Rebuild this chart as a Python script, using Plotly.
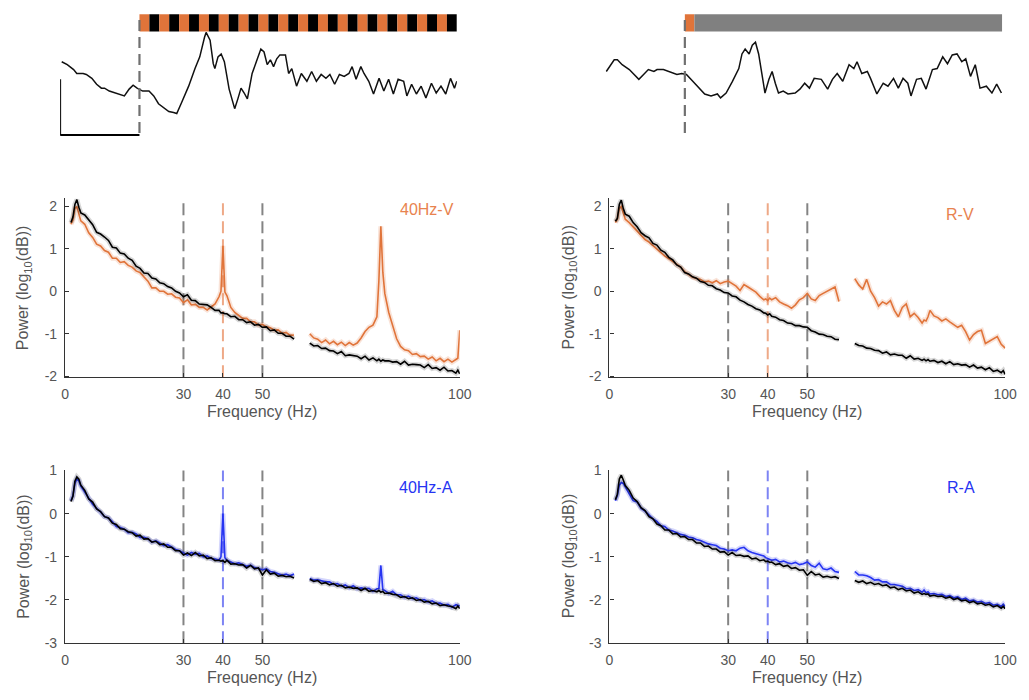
import plotly.graph_objects as go

# ---------------------------------------------------------------
# Frequency grids (Hz); the 58-62 Hz band is removed (line noise)
# ---------------------------------------------------------------
F_LOW = [1.5, 2, 2.5, 3, 3.5, 4,
         5, 6, 7, 8, 9, 10, 11, 12, 13, 14,
         15, 16, 17, 18, 19, 20, 21, 22, 23, 24,
         25, 26, 27, 28, 29, 30, 31, 32, 33, 34,
         35, 36, 37, 38, 39, 39.5, 40, 40.5,
         41, 42, 43, 44, 45, 46, 47, 48, 49, 50,
         51, 52, 53, 54, 55, 56, 57, 58]
F_HIGH = [62, 63, 64, 65, 66, 67, 68, 69, 70, 71,
          72, 73, 74, 75, 76, 77, 78, 79, 79.5, 80, 80.5,
          81, 82, 83, 84, 85, 86, 87, 88, 89, 90,
          91, 92, 93, 94, 95, 96, 97, 98, 99, 99.5, 100]

# ---- 40Hz-V (visual 40 Hz flicker) vs control, log10 power ----
STIM_40V_LOW = [1.58, 1.68, 1.95, 2.00, 1.82, 1.66,
                1.58, 1.38, 1.27, 1.11, 1.07, 0.96, 0.92, 0.78, 0.78, 0.68,
                0.70, 0.61, 0.57, 0.48, 0.44, 0.34, 0.24, 0.08, 0.08, 0.00,
                0.00, -0.07, -0.06, -0.14, -0.16, -0.27, -0.20, -0.32, -0.31, -0.38,
                -0.38, -0.44, -0.36, -0.30, -0.13, 0.00, 1.07, -0.02,
                -0.10, -0.38, -0.50, -0.56, -0.64, -0.64, -0.72, -0.72, -0.80, -0.78,
                -0.84, -0.86, -0.92, -0.91, -0.99, -0.97, -1.04, -1.03]
STIM_40V_HIGH = [-1.00, -1.10, -1.13, -1.21, -1.15, -1.24, -1.18, -1.26, -1.20, -1.28,
                 -1.21, -1.27, -1.22, -1.10, -0.95, -0.85, -0.80, -0.60, 0.25, 1.53, 0.45,
                 -0.05, -0.50, -0.80, -1.12, -1.30, -1.38, -1.40, -1.49, -1.47, -1.54,
                 -1.53, -1.60, -1.55, -1.64, -1.58, -1.66, -1.60, -1.67, -1.61, -1.58, -0.92]
CTRL_40V_LOW = [1.62, 1.75, 2.05, 2.16, 1.98, 1.85,
                1.80, 1.68, 1.57, 1.39, 1.35, 1.28, 1.20, 1.04, 1.02, 0.90,
                0.88, 0.78, 0.73, 0.59, 0.54, 0.43, 0.42, 0.31, 0.29, 0.20,
                0.18, 0.11, 0.08, 0.00, -0.04, -0.13, -0.08, -0.21, -0.22, -0.30,
                -0.31, -0.32, -0.38, -0.45, -0.45, -0.51, -0.51, -0.53,
                -0.53, -0.60, -0.59, -0.67, -0.67, -0.74, -0.72, -0.80, -0.78, -0.85,
                -0.84, -0.93, -0.91, -0.99, -0.99, -1.06, -1.06, -1.13]
CTRL_40V_HIGH = [-1.22, -1.29, -1.28, -1.35, -1.34, -1.40, -1.41, -1.47, -1.42, -1.52,
                 -1.50, -1.52, -1.53, -1.59, -1.53, -1.62, -1.57, -1.64, -1.60, -1.65, -1.62,
                 -1.64, -1.64, -1.67, -1.66, -1.72, -1.65, -1.74, -1.72, -1.73, -1.74,
                 -1.80, -1.73, -1.82, -1.80, -1.86, -1.79, -1.88, -1.87, -1.93, -1.86, -1.95]

# ---- R-V (visual random flicker) vs control ----
STIM_RV_LOW = [1.62, 1.70, 1.95, 2.00, 1.85, 1.70,
               1.62, 1.52, 1.40, 1.30, 1.22, 1.16, 1.08, 0.98, 0.92, 0.83,
               0.77, 0.70, 0.62, 0.57, 0.46, 0.39, 0.33, 0.30, 0.28, 0.22,
               0.24, 0.20, 0.25, 0.18, 0.22, 0.24, 0.18, 0.12, 0.02, 0.16,
               0.10, 0.05, -0.02, -0.12, -0.20, -0.18, -0.22, -0.16,
               -0.20, -0.15, -0.25, -0.30, -0.34, -0.40, -0.32, -0.20, -0.15, -0.05,
               -0.18, -0.22, -0.10, -0.05, 0.00, 0.05, 0.10, -0.24]
STIM_RV_HIGH = [0.30, 0.15, 0.05, 0.28, 0.00, -0.15, -0.35, -0.25, -0.30, -0.22,
                -0.45, -0.60, -0.38, -0.30, -0.60, -0.52, -0.62, -0.75, -0.68, -0.70, -0.60,
                -0.45, -0.58, -0.62, -0.70, -0.65, -0.72, -0.78, -0.85, -0.80, -0.95,
                -1.15, -1.02, -0.95, -0.92, -1.23, -1.18, -1.12, -1.07, -1.25, -1.30, -1.34]
CTRL_RV_LOW = [1.65, 1.72, 2.05, 2.15, 1.95, 1.82,
               1.77, 1.62, 1.52, 1.38, 1.31, 1.26, 1.13, 1.09, 0.97, 0.92,
               0.80, 0.74, 0.62, 0.57, 0.44, 0.41, 0.34, 0.31, 0.23, 0.21,
               0.14, 0.13, 0.06, 0.03, -0.03, -0.04, -0.11, -0.13, -0.21, -0.25,
               -0.31, -0.35, -0.41, -0.44, -0.51, -0.52, -0.56, -0.53,
               -0.59, -0.61, -0.67, -0.69, -0.75, -0.76, -0.81, -0.81, -0.84, -0.85,
               -0.93, -0.96, -1.01, -1.02, -1.06, -1.07, -1.13, -1.14]
CTRL_RV_HIGH = [-1.23, -1.28, -1.29, -1.34, -1.35, -1.39, -1.40, -1.46, -1.43, -1.50,
                -1.48, -1.51, -1.51, -1.58, -1.52, -1.60, -1.58, -1.63, -1.60, -1.64, -1.61,
                -1.65, -1.63, -1.68, -1.65, -1.71, -1.66, -1.73, -1.71, -1.74, -1.73,
                -1.79, -1.74, -1.81, -1.79, -1.85, -1.80, -1.89, -1.86, -1.92, -1.87, -1.96]

# ---- 40Hz-A (auditory 40 Hz clicks) vs control ----
STIM_40A_LOW = [0.30, 0.42, 0.70, 0.80, 0.76, 0.64,
                0.50, 0.35, 0.22, 0.12, 0.04, -0.07, -0.10, -0.19, -0.30, -0.32,
                -0.36, -0.44, -0.43, -0.47, -0.55, -0.55, -0.58, -0.66, -0.63, -0.68,
                -0.74, -0.72, -0.78, -0.83, -0.86, -0.92, -0.96, -0.90, -0.94, -0.92,
                -1.00, -0.98, -1.04, -1.05, -1.08, -1.00, 0.00, -1.02,
                -1.08, -1.12, -1.16, -1.14, -1.18, -1.22, -1.19, -1.25, -1.27, -1.30,
                -1.28, -1.34, -1.36, -1.40, -1.43, -1.40, -1.44, -1.40]
STIM_40A_HIGH = [-1.50, -1.54, -1.53, -1.55, -1.58, -1.58, -1.64, -1.62, -1.68, -1.65,
                 -1.72, -1.67, -1.74, -1.72, -1.74, -1.73, -1.80, -1.74, -1.74, -1.20, -1.76,
                 -1.78, -1.85, -1.80, -1.88, -1.88, -1.94, -1.91, -1.97, -1.95, -2.01,
                 -1.99, -2.05, -2.02, -2.08, -2.07, -2.12, -2.10, -2.17, -2.11, -2.12, -2.14]
CTRL_40A_LOW = [0.28, 0.40, 0.75, 0.85, 0.80, 0.66,
                0.54, 0.34, 0.27, 0.11, 0.05, -0.07, -0.10, -0.22, -0.25, -0.35,
                -0.36, -0.42, -0.44, -0.52, -0.50, -0.59, -0.58, -0.66, -0.64, -0.72,
                -0.70, -0.78, -0.78, -0.86, -0.86, -0.96, -0.91, -0.97, -0.90, -0.98,
                -0.96, -1.04, -1.02, -1.09, -1.08, -1.10, -1.09, -1.13,
                -1.08, -1.17, -1.16, -1.19, -1.18, -1.26, -1.20, -1.28, -1.26, -1.42,
                -1.30, -1.40, -1.38, -1.45, -1.43, -1.46, -1.45, -1.49]
CTRL_40A_HIGH = [-1.52, -1.57, -1.55, -1.62, -1.60, -1.65, -1.62, -1.68, -1.66, -1.72,
                 -1.70, -1.73, -1.72, -1.78, -1.73, -1.80, -1.78, -1.81, -1.78, -1.82, -1.80,
                 -1.85, -1.84, -1.87, -1.88, -1.94, -1.92, -1.97, -1.95, -2.01, -1.99,
                 -2.05, -2.03, -2.09, -2.07, -2.13, -2.11, -2.14, -2.15, -2.20, -2.14, -2.20]

# ---- R-A (auditory random clicks) vs control ----
STIM_RA_LOW = [0.30, 0.42, 0.66, 0.72, 0.70, 0.62,
               0.48, 0.30, 0.27, 0.12, 0.06, -0.04, -0.12, -0.18, -0.28, -0.30,
               -0.38, -0.40, -0.44, -0.48, -0.50, -0.54, -0.56, -0.60, -0.62, -0.66,
               -0.70, -0.72, -0.74, -0.80, -0.82, -0.86, -0.84, -0.86, -0.80, -0.78,
               -0.86, -0.90, -0.93, -0.96, -0.98, -1.02, -1.04, -1.05,
               -1.08, -1.06, -1.12, -1.10, -1.14, -1.16, -1.13, -1.18, -1.16, -1.12,
               -1.20, -1.24, -1.15, -1.28, -1.30, -1.26, -1.34, -1.36]
STIM_RA_HIGH = [-1.34, -1.42, -1.42, -1.44, -1.48, -1.54, -1.53, -1.58, -1.58, -1.64,
                -1.64, -1.66, -1.68, -1.74, -1.73, -1.78, -1.76, -1.82, -1.77, -1.83, -1.81,
                -1.86, -1.85, -1.88, -1.87, -1.92, -1.90, -1.95, -1.93, -1.99, -1.96,
                -2.02, -2.00, -2.05, -2.03, -2.08, -2.06, -2.12, -2.10, -2.15, -2.10, -2.15]
CTRL_RA_LOW = [0.32, 0.45, 0.80, 0.89, 0.78, 0.65,
               0.54, 0.36, 0.28, 0.14, 0.07, -0.07, -0.12, -0.24, -0.28, -0.38,
               -0.38, -0.47, -0.46, -0.54, -0.53, -0.60, -0.60, -0.68, -0.68, -0.76,
               -0.75, -0.82, -0.82, -0.89, -0.88, -0.96, -0.90, -0.97, -0.96, -0.99,
               -0.98, -1.05, -1.03, -1.09, -1.07, -1.11, -1.10, -1.13,
               -1.12, -1.18, -1.16, -1.22, -1.20, -1.27, -1.25, -1.31, -1.30, -1.43,
               -1.34, -1.42, -1.40, -1.47, -1.45, -1.48, -1.46, -1.50]
CTRL_RA_HIGH = [-1.55, -1.59, -1.56, -1.62, -1.59, -1.64, -1.62, -1.67, -1.65, -1.72,
                -1.70, -1.76, -1.73, -1.79, -1.77, -1.84, -1.81, -1.87, -1.85, -1.87, -1.86,
                -1.91, -1.89, -1.92, -1.91, -1.96, -1.93, -1.99, -1.96, -2.02, -2.00,
                -2.06, -2.03, -2.09, -2.07, -2.12, -2.10, -2.16, -2.13, -2.19, -2.15, -2.20]

# ---- Example single-trial LFP traces (ms, arbitrary uV) ----
TRACE_40_MS = [-98, -91, -83, -79, -71, -67, -60, -54, -48, -44,
               -38, -31, -25, -19, -13, -8, -3, 4, 12, 18,
               24, 31, 37, 43, 47, 53, 62, 70, 76, 82,
               84, 89, 93, 95, 99, 103, 107, 113, 120, 124,
               128, 132, 136, 142, 149, 153, 157, 161, 165, 169,
               173, 177, 184, 188, 192, 198, 204, 211, 217, 223,
               229, 235, 240, 246, 252, 258, 264, 268, 273, 279,
               283, 289, 295, 302, 308, 314, 320, 326, 333, 337,
               343, 349, 355, 361, 368, 374, 380, 386, 392, 397, 400]
TRACE_40_UV = [35, 32, 27, 23, 23, 22, 18, 12, 8, 8,
               5, 3, 1, 0, 7, 11, 8, 5, 5, 0,
               -8, -12, -16, -17, -18, -7, 10, 28, 40, 60,
               65, 57, 33, 28, 40, 43, 35, 7, -13, -3,
               8, 3, -3, 23, 40, 48, 45, 32, 37, 30,
               38, 42, 42, 23, 28, 10, 23, 15, 25, 15,
               22, 18, 22, 12, 22, 20, 23, 30, 17, 30,
               23, 15, 2, 18, 5, 17, 2, 17, 15, 0,
               12, 2, 10, -2, 13, 3, 10, 2, 18, 8, 15]
TRACE_R_MS = [-99, -93, -89, -85, -79, -70, -64, -58, -52, -46,
              -39, -35, -27, -19, -10, -4, 2, 10, 19, 25,
              33, 41, 45, 52, 60, 68, 72, 76, 81, 85,
              89, 93, 97, 101, 106, 110, 114, 118, 124, 130,
              139, 145, 151, 157, 163, 172, 180, 186, 192, 199,
              207, 213, 217, 223, 230, 234, 242, 250, 256, 263,
              269, 275, 281, 285, 292, 298, 304, 312, 318, 325,
              331, 337, 343, 349, 354, 360, 366, 372, 380, 387,
              393, 399]
TRACE_R_UV = [25, 32, 37, 37, 32, 27, 22, 17, 22, 27,
              25, 27, 27, 25, 22, 23, 22, 15, 7, 2,
              0, 2, -2, 3, 15, 28, 43, 48, 43, 52,
              55, 43, 23, 3, 17, 25, 13, 3, 5, 2,
              3, 7, 13, 8, 18, 17, 7, 17, 23, 15,
              32, 28, 35, 23, 25, 18, 2, 13, 10, 18,
              8, 18, 13, 0, 17, 18, 7, 27, 28, 40,
              33, 42, 43, 35, 38, 20, 32, 8, 10, 3,
              12, 3]

# Stimulus timing
STIM_DURATION_MS = 400
FLICKER_PERIOD_MS = 25          # 40 Hz
RANDOM_FIRST_PULSE_MS = 12

TICKS_X = [0, 30, 40, 50, 100]
BAND_MARKERS = [30, 40, 50]
TICKS_Y_TOP = [-2, -1, 0, 1, 2]
TICKS_Y_BOTTOM = [-3, -2, -1, 0, 1]

# ---------------------------------------------------------------
FONT = "Liberation Sans, Arial, Helvetica, sans-serif"
ORANGE = "#E0743A"
ORANGE_TXT = "#E8834F"
ORANGE_DASH = "rgba(232,140,95,0.75)"
BLUE = "#2634F2"
BLUE_DASH = "rgba(70,80,240,0.7)"
GRAY_DASH = "rgba(110,110,110,0.85)"
AXIS_COL = "#333333"
TEXT_COL = "#555555"
W, H = 1029, 700

fig = go.Figure()


def add_spectrum(low, high, color, halo, xa, ya):
    x = F_LOW + [None] + F_HIGH
    y = low + [None] + high
    fig.add_trace(go.Scatter(x=x, y=y, mode="lines", xaxis=xa, yaxis=ya,
                             line=dict(color=halo, width=5),
                             connectgaps=False, hoverinfo="skip", showlegend=False))
    fig.add_trace(go.Scatter(x=x, y=y, mode="lines", xaxis=xa, yaxis=ya,
                             line=dict(color=color, width=1.6),
                             connectgaps=False, showlegend=False))


panels = [
    # xaxis, yaxis, stim low/high, ctrl low/high, colour, halo, 40-Hz marker colour
    ("x", "y", STIM_40V_LOW, STIM_40V_HIGH, CTRL_40V_LOW, CTRL_40V_HIGH,
     ORANGE, "rgba(224,116,58,0.2)", ORANGE_DASH),
    ("x2", "y2", STIM_RV_LOW, STIM_RV_HIGH, CTRL_RV_LOW, CTRL_RV_HIGH,
     ORANGE, "rgba(224,116,58,0.2)", ORANGE_DASH),
    ("x3", "y3", STIM_40A_LOW, STIM_40A_HIGH, CTRL_40A_LOW, CTRL_40A_HIGH,
     BLUE, "rgba(38,52,242,0.2)", BLUE_DASH),
    ("x4", "y4", STIM_RA_LOW, STIM_RA_HIGH, CTRL_RA_LOW, CTRL_RA_HIGH,
     BLUE, "rgba(38,52,242,0.2)", BLUE_DASH),
]

shapes = []
for xa, ya, s_lo, s_hi, c_lo, c_hi, col, halo, mark_col in panels:
    add_spectrum(s_lo, s_hi, col, halo, xa, ya)
    add_spectrum(c_lo, c_hi, "black", "rgba(0,0,0,0.16)", xa, ya)
    for f in BAND_MARKERS:
        shapes.append(dict(type="line", xref=xa, yref=f"{ya} domain",
                           x0=f, x1=f, y0=0, y1=1, layer="below",
                           line=dict(color=mark_col if f == 40 else GRAY_DASH,
                                     width=2, dash="12px,6px")))

# Example traces
fig.add_trace(go.Scatter(x=TRACE_40_MS, y=TRACE_40_UV, mode="lines", xaxis="x5", yaxis="y5",
                         line=dict(color="#111111", width=1.5), showlegend=False))
fig.add_trace(go.Scatter(x=TRACE_R_MS, y=TRACE_R_UV, mode="lines", xaxis="x6", yaxis="y6",
                         line=dict(color="#111111", width=1.5), showlegend=False))

BAR_Y0, BAR_Y1 = 66, 83.5
# 40 Hz flicker bar: alternating on/off half cycles
n_cycles = STIM_DURATION_MS // FLICKER_PERIOD_MS
for k in range(n_cycles):
    t0 = k * FLICKER_PERIOD_MS
    half = FLICKER_PERIOD_MS / 2
    shapes.append(dict(type="rect", xref="x5", yref="y5", x0=t0, x1=t0 + half,
                       y0=BAR_Y0, y1=BAR_Y1, fillcolor=ORANGE, line=dict(width=0)))
    shapes.append(dict(type="rect", xref="x5", yref="y5", x0=t0 + half, x1=t0 + FLICKER_PERIOD_MS,
                       y0=BAR_Y0, y1=BAR_Y1, fillcolor="black", line=dict(width=0)))
# Random flicker bar
shapes.append(dict(type="rect", xref="x6", yref="y6", x0=0, x1=RANDOM_FIRST_PULSE_MS,
                   y0=BAR_Y0, y1=BAR_Y1, fillcolor=ORANGE, line=dict(width=0)))
shapes.append(dict(type="rect", xref="x6", yref="y6", x0=RANDOM_FIRST_PULSE_MS, x1=STIM_DURATION_MS,
                   y0=BAR_Y0, y1=BAR_Y1, fillcolor="#808080", line=dict(width=0)))
# Stimulus onset
for xa, ya in (("x5", "y5"), ("x6", "y6")):
    shapes.append(dict(type="line", xref=xa, yref=ya, x0=0, x1=0, y0=-38, y1=BAR_Y1,
                       line=dict(color="#707070", width=2.2, dash="11px,6px")))
# Scale bar
shapes.append(dict(type="line", xref="x5", yref="y5", x0=-100, x1=-100, y0=17, y1=-40,
                   line=dict(color="black", width=2)))
shapes.append(dict(type="line", xref="x5", yref="y5", x0=-100, x1=0, y0=-40, y1=-40,
                   line=dict(color="black", width=2)))

# ---------------- axes ----------------
def xdom(p0, p1):
    return [p0 / W, p1 / W]


def ydom(top_px, bottom_px):
    return [1 - bottom_px / H, 1 - top_px / H]


axis_common = dict(showline=True, linecolor=AXIS_COL, linewidth=1.3, ticks="inside",
                   ticklen=4, tickwidth=1.2, tickcolor=AXIS_COL, showgrid=False,
                   zeroline=False, mirror=False,
                   tickfont=dict(family=FONT, size=14, color=TEXT_COL))

LEFT = xdom(62, 463)
RIGHT = xdom(615, 1017)
TOP = ydom(194, 378)
BOTTOM = ydom(473.3, 650)


def xaxis(dom, anchor):
    return dict(axis_common, domain=dom, anchor=anchor, range=[0, 100],
                tickvals=TICKS_X, ticktext=[str(v) for v in TICKS_X], ticklabelstandoff=4)


def yaxis(dom, anchor, rng, ticks):
    return dict(axis_common, domain=dom, anchor=anchor, range=rng,
                tickvals=ticks, ticktext=[str(v) for v in ticks], ticklabelstandoff=4)


hidden = dict(visible=False, showgrid=False, zeroline=False, fixedrange=True)

fig.update_layout(
    width=W, height=H, margin=dict(l=0, r=0, t=0, b=0),
    paper_bgcolor="white", plot_bgcolor="white", hovermode=False,
    font=dict(family=FONT, color=TEXT_COL),
    xaxis=xaxis(LEFT, "y"), yaxis=yaxis(TOP, "x", [-2.03, 2.21], TICKS_Y_TOP),
    xaxis2=xaxis(RIGHT, "y2"), yaxis2=yaxis(TOP, "x2", [-2.03, 2.21], TICKS_Y_TOP),
    xaxis3=xaxis(LEFT, "y3"), yaxis3=yaxis(BOTTOM, "x3", [-3, 1], TICKS_Y_BOTTOM),
    xaxis4=xaxis(RIGHT, "y4"), yaxis4=yaxis(BOTTOM, "x4", [-3, 1], TICKS_Y_BOTTOM),
    xaxis5=dict(hidden, domain=xdom(57, 460), anchor="y5", range=[-100, 400]),
    yaxis5=dict(hidden, domain=ydom(0, 135), anchor="x5", range=[-45, 90]),
    xaxis6=dict(hidden, domain=xdom(611, 1014), anchor="y6", range=[-100, 400]),
    yaxis6=dict(hidden, domain=ydom(0, 135), anchor="x6", range=[-45, 90]),
    shapes=shapes,
)

annotations = []
ytitle = "Power (log<sub>10</sub>(dB))"
for xp, yp in ((20, 286), (574, 286), (20, 561), (574, 561)):
    annotations.append(dict(text=ytitle, x=xp / W, y=1 - yp / H, xref="paper", yref="paper",
                            textangle=-90, showarrow=False, xanchor="center", yanchor="middle",
                            font=dict(family=FONT, size=16, color=TEXT_COL)))
for xp, yp in ((262, 413), (816, 413), (262, 685), (816, 685)):
    annotations.append(dict(text="Frequency (Hz)", x=xp / W, y=1 - yp / H, xref="paper",
                            yref="paper", showarrow=False, xanchor="center", yanchor="middle",
                            font=dict(family=FONT, size=16, color=TEXT_COL)))
for txt, xp, yp, col in (("40Hz-V", 430, 206, ORANGE_TXT), ("R-V", 971, 211, ORANGE_TXT),
                         ("40Hz-A", 429, 491, BLUE), ("R-A", 972, 491, BLUE)):
    annotations.append(dict(text=txt, x=xp / W, y=1 - yp / H, xref="paper", yref="paper",
                            showarrow=False, xanchor="center", yanchor="middle",
                            font=dict(family=FONT, size=16, color=col)))
fig.update_layout(annotations=annotations)

fig.write_html("out.html")
